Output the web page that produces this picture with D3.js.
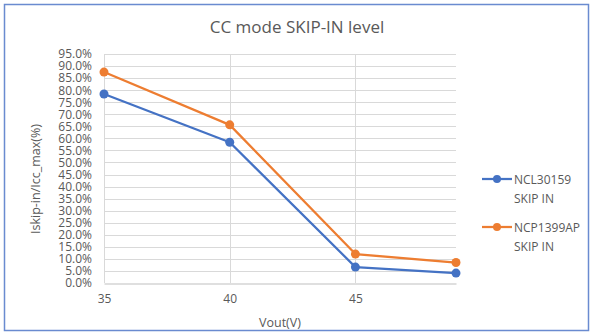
<!DOCTYPE html>
<html lang="en">

<head>
    <meta charset="utf-8">
    <title>CC mode SKIP-IN level</title>
    <script type="text/javascript" src="https://cdn.jsdelivr.net/npm/d3@7/dist/d3.min.js"></script>
    <style type="text/css">
    body {
        margin: 0;
        background: white;
    }

    svg text {
        font-family: "Open Sans", "Noto Sans", sans-serif;
        fill: #595959;
    }

    .grid line {
        stroke: #d9d9d9;
        stroke-width: 1;
    }
    </style>
</head>

<body>
    <script type="text/javascript">
    //Width and height
    var w = 592;
    var h = 336;

    //data
    var vout = [35, 40, 45, 49];
    var ncl30159 = [78.4, 58.4, 6.6, 4.1];
    var ncp1399ap = [87.5, 65.6, 12.0, 8.5];
    var seriesNames = [['NCL30159', 'SKIP IN'], ['NCP1399AP', 'SKIP IN']];
    var seriesColors = ['#4472c4', '#ed7d31'];
    var xTicks = [35, 40, 45];
    var yTicks = d3.range(0, 96, 5);

    var series = [ncl30159, ncp1399ap];

    //plot area (note: "top" is taken by window.top)
    var plotLeft = 104,
        plotRight = 456,
        plotTop = 54,
        plotBottom = 283;

    var x = d3.scaleLinear()
        .domain([35, 49])
        .range([plotLeft, plotRight]);

    var y = d3.scaleLinear()
        .domain([0, 95])
        .range([plotBottom, plotTop]);

    var svg = d3.select('body')
        .append('svg')
        .attr('width', w)
        .attr('height', h);

    //chart frame
    svg.append('rect')
        .attr('x', 4.5)
        .attr('y', 4.5)
        .attr('width', 584)
        .attr('height', 326)
        .attr('fill', 'white')
        .attr('stroke', '#6a8bd0')
        .attr('stroke-width', 1.5);

    //title
    svg.append('text')
        .attr('x', 297)
        .attr('y', 33)
        .attr('text-anchor', 'middle')
        .style('font-size', '17px')
        .text('CC mode SKIP-IN level');

    //horizontal gridlines
    svg.append('g')
        .attr('class', 'grid')
        .selectAll('line')
        .data(yTicks.slice(1))
        .enter()
        .append('line')
        .attr('x1', plotLeft)
        .attr('x2', plotRight)
        .attr('y1', function(d) { return Math.round(y(d)) + 0.5; })
        .attr('y2', function(d) { return Math.round(y(d)) + 0.5; });

    //vertical gridlines
    svg.append('g')
        .attr('class', 'grid')
        .selectAll('line')
        .data(xTicks)
        .enter()
        .append('line')
        .attr('x1', function(d) { return Math.round(x(d)) + 0.5; })
        .attr('x2', function(d) { return Math.round(x(d)) + 0.5; })
        .attr('y1', plotTop)
        .attr('y2', plotBottom);

    //x axis
    var xAxis = d3.axisBottom(x)
        .tickValues(xTicks)
        .tickSize(0)
        .tickPadding(11);

    var gx = svg.append('g')
        .attr('transform', 'translate(0,' + (Math.round(plotBottom) + 0.5) + ')')
        .call(xAxis);

    gx.select('.domain').attr('stroke', '#bfbfbf');
    gx.selectAll('text')
        .style('font-size', '12px')
        .attr('fill', '#595959');

    //y axis
    var yAxis = d3.axisLeft(y)
        .tickValues(yTicks)
        .tickSize(0)
        .tickPadding(12)
        .tickFormat(function(d) { return d3.format('.1f')(d) + '%'; });

    var gy = svg.append('g')
        .attr('transform', 'translate(' + plotLeft + ',0)')
        .call(yAxis);

    gy.select('.domain').remove();
    gy.selectAll('text')
        .style('font-size', '12px')
        .attr('fill', '#595959');

    //axis titles
    svg.append('text')
        .attr('x', 280)
        .attr('y', 327)
        .attr('text-anchor', 'middle')
        .style('font-size', '12.5px')
        .text('Vout(V)');

    svg.append('text')
        .attr('transform', 'translate(40,179) rotate(-90)')
        .attr('text-anchor', 'middle')
        .style('font-size', '12.5px')
        .text('Iskip-in/Icc_max(%)');

    //lines and markers
    var line = d3.line()
        .x(function(d, i) { return x(vout[i]); })
        .y(function(d) { return y(d); });

    series.forEach(function(s, k) {
        svg.append('path')
            .datum(s)
            .attr('d', line)
            .attr('fill', 'none')
            .attr('stroke', seriesColors[k])
            .attr('stroke-width', 2.25)
            .attr('stroke-linejoin', 'round');

        svg.selectAll('.m' + k)
            .data(s)
            .enter()
            .append('circle')
            .attr('class', 'm' + k)
            .attr('cx', function(d, i) { return x(vout[i]); })
            .attr('cy', function(d) { return y(d); })
            .attr('r', 4.5)
            .attr('fill', seriesColors[k]);
    });

    //legend
    var legend = svg.selectAll('.legend')
        .data(seriesNames)
        .enter()
        .append('g')
        .attr('class', 'legend')
        .attr('transform', function(d, i) { return 'translate(482,' + (179 + i * 48) + ')'; });

    legend.append('line')
        .attr('x1', 0)
        .attr('x2', 30)
        .attr('stroke', function(d, i) { return seriesColors[i]; })
        .attr('stroke-width', 2.25);

    legend.append('circle')
        .attr('cx', 15)
        .attr('r', 4)
        .attr('fill', function(d, i) { return seriesColors[i]; });

    legend.append('text')
        .attr('x', 32)
        .attr('y', 4.5)
        .style('font-size', '12px')
        .selectAll('tspan')
        .data(function(d) { return d; })
        .enter()
        .append('tspan')
        .attr('x', 32)
        .attr('dy', function(d, i) { return i === 0 ? 0 : 19; })
        .text(function(d) { return d; });
    </script>
</body>

</html>
